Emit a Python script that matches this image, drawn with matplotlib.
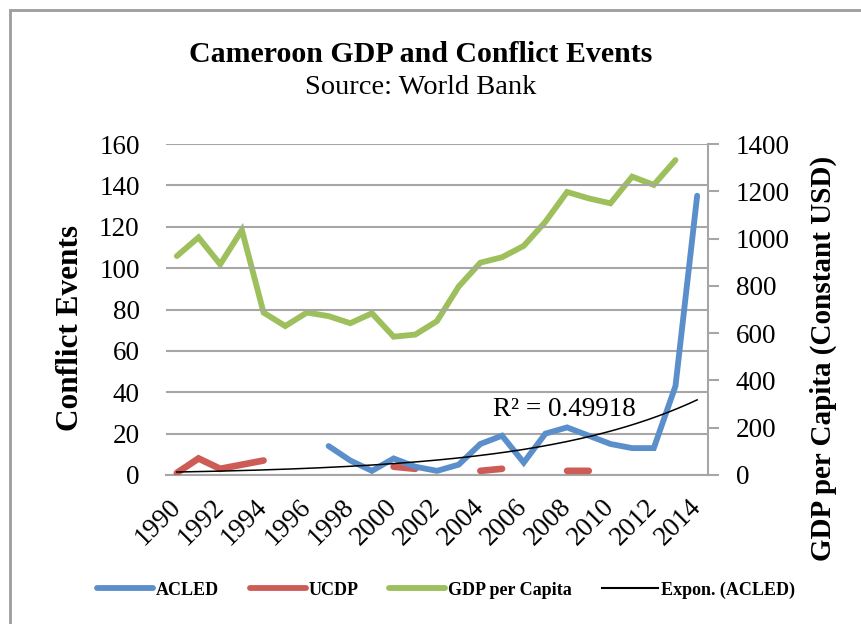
import numpy as np
import matplotlib
matplotlib.use("Agg")
import matplotlib.pyplot as plt
from matplotlib.patches import Rectangle

years = list(range(1990, 2015))
acled = [None, None, None, None, None, None, None,
         14, 7, 2, 8, 4, 2, 5, 15, 19, 6, 20, 23, 19, 15, 13, 13, 43, 135]
ucdp = [1, 8, 3, 5, 7, None, None, None, None, None, 4, 3, None, None,
        2, 3, None, None, 2, 2, None, None, None, None, None]
gdp = [926, 1005, 891, 1036, 687, 630, 687, 672, 642, 684, 585, 594, 651,
       797, 898, 921, 969, 1071, 1197, 1170, 1149, 1262, 1227, 1332, None]
r2_label = "R\u00b2 = 0.49918"

C_ACLED = "#5B8FCB"
C_UCDP = "#CD5C57"
C_GDP = "#9DBF5C"
GRID = "#A6A6A6"
FONT = "Liberation Serif"


def arr(v):
    return np.array([np.nan if x is None else x for x in v], dtype=float)


x = np.arange(len(years))
a_vals, u_vals, g_vals = arr(acled), arr(ucdp), arr(gdp)

fig = plt.figure(figsize=(8.61, 6.24), dpi=100)
fig.patch.set_facecolor("white")
ax = fig.add_axes([166 / 861, 1 - 475 / 624, (708 - 166) / 861, (475 - 144) / 624])
ax2 = ax.twinx()

# left axis: conflict events
ax.set_xlim(-0.5, len(years) - 0.5)
ax.set_ylim(0, 160)
ax.set_yticks(np.arange(0, 161, 20))
ax.yaxis.grid(True, color=GRID, linewidth=1.5)
ax.set_axisbelow(True)
for s in ["left", "top", "right"]:
    ax.spines[s].set_visible(False)
ax.spines["bottom"].set_color(GRID)
ax.spines["bottom"].set_linewidth(1.5)
ax.tick_params(axis="y", length=0, pad=19, labelsize=19.5)
ax.tick_params(axis="x", length=0, pad=20, labelsize=19.5)
ax.set_xticks(x[::2])
ax.set_xticklabels([str(y) for y in years[::2]], rotation=45, ha="right",
                   va="center", rotation_mode="anchor", fontfamily=FONT)
for lab in ax.get_yticklabels():
    lab.set_fontfamily(FONT)

# right axis: GDP per capita
ax2.set_ylim(0, 1400)
ax2.set_yticks(np.arange(0, 1401, 200))
for s in ["left", "top", "bottom"]:
    ax2.spines[s].set_visible(False)
ax2.spines["right"].set_color(GRID)
ax2.spines["right"].set_linewidth(1.5)
ax2.tick_params(axis="y", length=8, width=1.5, color=GRID, pad=12, labelsize=19.5)
for lab in ax2.get_yticklabels():
    lab.set_fontfamily(FONT)

lw = 4.2
ax2.plot(x, g_vals, color=C_GDP, linewidth=lw, solid_capstyle="round",
         solid_joinstyle="miter", zorder=2)
ax.set_zorder(ax2.get_zorder() + 1)
ax.patch.set_visible(False)
ax.plot(x, u_vals, color=C_UCDP, linewidth=lw + 0.6, solid_capstyle="round",
        solid_joinstyle="miter", zorder=3)
ax.plot(x, a_vals, color=C_ACLED, linewidth=lw, solid_capstyle="round",
        solid_joinstyle="miter", zorder=4)

# exponential trend fitted to the ACLED counts
m = ~np.isnan(a_vals)
b, ln_a = np.polyfit(x[m] + 1, np.log(a_vals[m]), 1)
xt = np.linspace(0, len(years) - 1, 200)
ax.plot(xt, np.exp(ln_a + b * (xt + 1)), color="black", linewidth=1.1, zorder=5)
ax.text(14.6, 31.5, r2_label, fontsize=19.5, fontfamily=FONT,
        ha="left", va="center", zorder=6)

fig.text(70 / 861, 1 - 328 / 624, "Conflict Events", rotation=90,
         fontsize=22.5, fontweight="bold", fontfamily=FONT,
         ha="center", va="center")
fig.text(823 / 861, 1 - 358 / 624, "GDP per Capita (Constant USD)", rotation=90,
         fontsize=21, fontweight="bold", fontfamily=FONT,
         ha="center", va="center")

fig.text(421 / 861, 1 - 55 / 624, "Cameroon GDP and Conflict Events",
         fontsize=21.5, fontweight="bold", fontfamily=FONT, ha="center", va="center")
fig.text(421 / 861, 1 - 88 / 624, "Source: World Bank",
         fontsize=20.5, fontfamily=FONT, ha="center", va="center")

handles = [
    plt.Line2D([], [], color=C_ACLED, linewidth=lw, solid_capstyle="round"),
    plt.Line2D([], [], color=C_UCDP, linewidth=lw, solid_capstyle="round"),
    plt.Line2D([], [], color=C_GDP, linewidth=lw, solid_capstyle="round"),
    plt.Line2D([], [], color="black", linewidth=1.5),
]
labels = ["ACLED", "UCDP", "GDP per Capita", "Expon. (ACLED)"]
fig.legend(handles, labels, loc="center", bbox_to_anchor=(446 / 861, 1 - 590 / 624),
           ncol=4, frameon=False, handlelength=3.1, handletextpad=0.15,
           columnspacing=1.7, prop={"family": FONT, "weight": "bold", "size": 13})

fig.patches.append(Rectangle((10 / 861, -0.1), 1.2, 1 - 10 / 624 + 0.1,
                             transform=fig.transFigure, fill=False,
                             edgecolor="#9C9C9C", linewidth=2))

fig.savefig("out.png", dpi=100, facecolor="white")
